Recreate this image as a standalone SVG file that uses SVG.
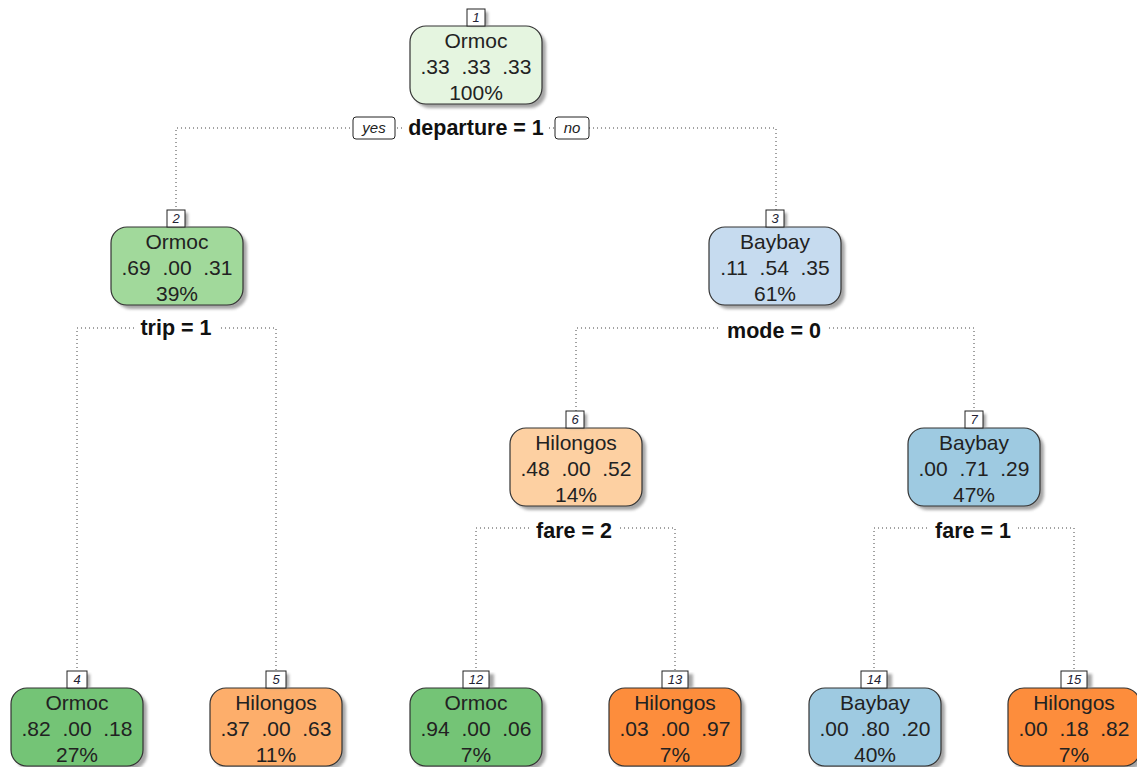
<svg xmlns="http://www.w3.org/2000/svg" width="1137" height="767" viewBox="0 0 1137 767">
<style>
.box{stroke:#333;stroke-width:1.2}
.sh{fill:#888;opacity:0.75}
.t{font-family:"Liberation Sans",Arial,sans-serif;font-size:21px;fill:#222;text-anchor:middle}
.num{font-family:"Liberation Sans",Arial,sans-serif;font-size:13px;font-style:italic;fill:#223;text-anchor:middle}
.nb{fill:#fff;stroke:#222;stroke-width:1}
.lab{font-family:"Liberation Sans",Arial,sans-serif;font-size:21.5px;font-weight:bold;fill:#111;text-anchor:middle}
.yn{font-family:"Liberation Sans",Arial,sans-serif;font-size:15px;font-style:italic;fill:#222;text-anchor:middle}
.con{fill:none;stroke:#444;stroke-width:1;stroke-dasharray:1 3}
</style>
<defs>
<filter id="blur" x="-10%" y="-10%" width="130%" height="130%"><feGaussianBlur stdDeviation="1.5"/></filter>
</defs>
<rect width="1137" height="767" fill="#fff"/>
<g id="connectors">
<path class="con" d="M176 211 V128 H776 V211"/>
<path class="con" d="M77 672 V328 H276 V672"/>
<path class="con" d="M576 411 V328 H974 V411"/>
<path class="con" d="M476 672 V528 H675 V672"/>
<path class="con" d="M874 672 V528 H1074 V672"/>
<rect x="403" y="116" width="146" height="24" fill="#fff"/>
<text class="lab" x="476" y="135">departure = 1</text>
<rect x="353" y="117" width="42" height="22" rx="3" class="nb"/>
<text class="yn" x="374" y="133">yes</text>
<rect x="555" y="117" width="34" height="22" rx="3" class="nb"/>
<text class="yn" x="572" y="133">no</text>
<rect x="134" y="317" width="84" height="24" fill="#fff"/>
<text class="lab" x="176" y="335">trip = 1</text>
<rect x="720" y="319" width="108" height="24" fill="#fff"/>
<text class="lab" x="774" y="338">mode = 0</text>
<rect x="530" y="519" width="88" height="24" fill="#fff"/>
<text class="lab" x="574" y="538">fare = 2</text>
<rect x="929" y="519" width="88" height="24" fill="#fff"/>
<text class="lab" x="973" y="538">fare = 1</text>
</g>
<g id="node1">
<rect x="414" y="30" width="132" height="78" rx="16" class="sh" filter="url(#blur)"/>
<rect x="410" y="26" width="132" height="78" rx="16" class="box" fill="#e5f5e0"/>
<rect x="470" y="12" width="18" height="14" class="sh" filter="url(#blur)"/>
<rect x="467" y="9" width="18" height="17" class="nb"/>
<text class="num" x="476" y="22">1</text>
<text class="t" x="476" y="48">Ormoc</text>
<text class="t" x="476" y="74" xml:space="preserve">.33  .33  .33</text>
<text class="t" x="476" y="100">100%</text>
</g>
<g id="node2">
<rect x="115" y="231" width="132" height="78" rx="16" class="sh" filter="url(#blur)"/>
<rect x="111" y="227" width="132" height="78" rx="16" class="box" fill="#a1d99b"/>
<rect x="170" y="213" width="18" height="14" class="sh" filter="url(#blur)"/>
<rect x="167" y="210" width="18" height="17" class="nb"/>
<text class="num" x="176" y="223">2</text>
<text class="t" x="177" y="249">Ormoc</text>
<text class="t" x="177" y="275" xml:space="preserve">.69  .00  .31</text>
<text class="t" x="177" y="301">39%</text>
</g>
<g id="node3">
<rect x="713" y="231" width="132" height="78" rx="16" class="sh" filter="url(#blur)"/>
<rect x="709" y="227" width="132" height="78" rx="16" class="box" fill="#c6dbef"/>
<rect x="769" y="213" width="18" height="14" class="sh" filter="url(#blur)"/>
<rect x="766" y="210" width="18" height="17" class="nb"/>
<text class="num" x="775" y="223">3</text>
<text class="t" x="775" y="249">Baybay</text>
<text class="t" x="775" y="275" xml:space="preserve">.11  .54  .35</text>
<text class="t" x="775" y="301">61%</text>
</g>
<g id="node6">
<rect x="514" y="432" width="132" height="78" rx="16" class="sh" filter="url(#blur)"/>
<rect x="510" y="428" width="132" height="78" rx="16" class="box" fill="#fdd0a2"/>
<rect x="569" y="414" width="18" height="14" class="sh" filter="url(#blur)"/>
<rect x="566" y="411" width="18" height="17" class="nb"/>
<text class="num" x="575" y="424">6</text>
<text class="t" x="576" y="450">Hilongos</text>
<text class="t" x="576" y="476" xml:space="preserve">.48  .00  .52</text>
<text class="t" x="576" y="502">14%</text>
</g>
<g id="node7">
<rect x="912" y="432" width="132" height="78" rx="16" class="sh" filter="url(#blur)"/>
<rect x="908" y="428" width="132" height="78" rx="16" class="box" fill="#9ecae1"/>
<rect x="968" y="414" width="18" height="14" class="sh" filter="url(#blur)"/>
<rect x="965" y="411" width="18" height="17" class="nb"/>
<text class="num" x="974" y="424">7</text>
<text class="t" x="974" y="450">Baybay</text>
<text class="t" x="974" y="476" xml:space="preserve">.00  .71  .29</text>
<text class="t" x="974" y="502">47%</text>
</g>
<g id="node4">
<rect x="15" y="692" width="132" height="78" rx="16" class="sh" filter="url(#blur)"/>
<rect x="11" y="688" width="132" height="78" rx="16" class="box" fill="#74c476"/>
<rect x="70" y="674" width="20" height="14" class="sh" filter="url(#blur)"/>
<rect x="67" y="671" width="20" height="17" class="nb"/>
<text class="num" x="77" y="684">4</text>
<text class="t" x="77" y="710">Ormoc</text>
<text class="t" x="77" y="736" xml:space="preserve">.82  .00  .18</text>
<text class="t" x="77" y="762">27%</text>
</g>
<g id="node5">
<rect x="214" y="692" width="132" height="78" rx="16" class="sh" filter="url(#blur)"/>
<rect x="210" y="688" width="132" height="78" rx="16" class="box" fill="#fdae6b"/>
<rect x="269" y="674" width="20" height="14" class="sh" filter="url(#blur)"/>
<rect x="266" y="671" width="20" height="17" class="nb"/>
<text class="num" x="276" y="684">5</text>
<text class="t" x="276" y="710">Hilongos</text>
<text class="t" x="276" y="736" xml:space="preserve">.37  .00  .63</text>
<text class="t" x="276" y="762">11%</text>
</g>
<g id="node12">
<rect x="414" y="692" width="132" height="78" rx="16" class="sh" filter="url(#blur)"/>
<rect x="410" y="688" width="132" height="78" rx="16" class="box" fill="#74c476"/>
<rect x="468" y="674" width="26" height="14" class="sh" filter="url(#blur)"/>
<rect x="463" y="671" width="26" height="17" class="nb"/>
<text class="num" x="476" y="684">12</text>
<text class="t" x="476" y="710">Ormoc</text>
<text class="t" x="476" y="736" xml:space="preserve">.94  .00  .06</text>
<text class="t" x="476" y="762">7%</text>
</g>
<g id="node13">
<rect x="613" y="692" width="132" height="78" rx="16" class="sh" filter="url(#blur)"/>
<rect x="609" y="688" width="132" height="78" rx="16" class="box" fill="#fd8d3c"/>
<rect x="667" y="674" width="26" height="14" class="sh" filter="url(#blur)"/>
<rect x="662" y="671" width="26" height="17" class="nb"/>
<text class="num" x="675" y="684">13</text>
<text class="t" x="675" y="710">Hilongos</text>
<text class="t" x="675" y="736" xml:space="preserve">.03  .00  .97</text>
<text class="t" x="675" y="762">7%</text>
</g>
<g id="node14">
<rect x="813" y="692" width="132" height="78" rx="16" class="sh" filter="url(#blur)"/>
<rect x="809" y="688" width="132" height="78" rx="16" class="box" fill="#9ecae1"/>
<rect x="866" y="674" width="26" height="14" class="sh" filter="url(#blur)"/>
<rect x="861" y="671" width="26" height="17" class="nb"/>
<text class="num" x="874" y="684">14</text>
<text class="t" x="875" y="710">Baybay</text>
<text class="t" x="875" y="736" xml:space="preserve">.00  .80  .20</text>
<text class="t" x="875" y="762">40%</text>
</g>
<g id="node15">
<rect x="1012" y="692" width="132" height="78" rx="16" class="sh" filter="url(#blur)"/>
<rect x="1008" y="688" width="132" height="78" rx="16" class="box" fill="#fd8d3c"/>
<rect x="1066" y="674" width="26" height="14" class="sh" filter="url(#blur)"/>
<rect x="1061" y="671" width="26" height="17" class="nb"/>
<text class="num" x="1074" y="684">15</text>
<text class="t" x="1074" y="710">Hilongos</text>
<text class="t" x="1074" y="736" xml:space="preserve">.00  .18  .82</text>
<text class="t" x="1074" y="762">7%</text>
</g>
</svg>
